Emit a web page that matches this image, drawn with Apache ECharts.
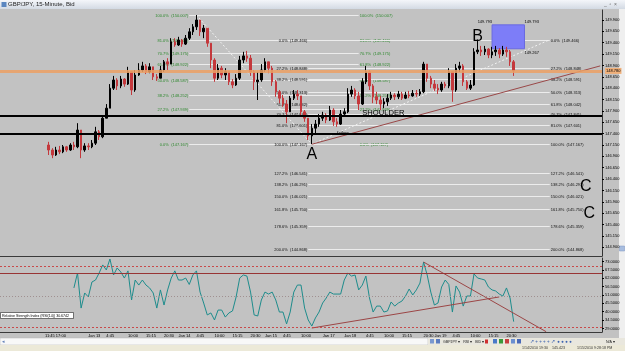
<!DOCTYPE html>
<html>
<head>
<meta charset="utf-8">
<script src="https://cdn.jsdelivr.net/npm/echarts@6/dist/echarts.min.js"></script>
<style>
html, body { margin: 0; padding: 0; background: #c2c2c2; }
#chart { width: 625px; height: 351px; }
</style>
</head>
<body>
<div id="chart"></div>
<script>
// GBP/JPY 15-Minute Bid, candles + RSI(14) sub window
const slotCount = 167
const firstSlot = 13
const firstOpen = 147.15

const closes = [
  147.04, 146.93, 147.04, 147.00, 147.11, 147.04, 147.15, 147.11, 147.48, 147.04,
  147.13, 147.11, 147.19, 147.44, 147.33, 147.74, 147.96, 148.40, 148.58, 148.45,
  148.60, 148.49, 148.76, 148.36, 148.69, 148.80, 148.89, 148.76, 148.87, 148.65,
  148.62, 148.80, 148.98, 148.93, 149.42, 149.35, 149.46, 149.37, 149.50, 149.64,
  149.75, 149.90, 149.64, 149.72, 149.39, 149.02, 148.62, 148.84, 148.69, 148.76,
  148.54, 148.47, 148.62, 149.02, 149.11, 149.06, 148.76, 148.54, 148.58, 148.80,
  148.98, 148.84, 148.54, 148.32, 148.18, 148.05, 147.88, 148.18, 148.27, 148.23,
  147.88, 147.74, 147.35, 147.52, 147.61, 147.74, 147.81, 147.70, 147.92, 147.66,
  147.61, 147.83, 147.88, 148.27, 148.36, 148.23, 148.05, 148.54, 148.76, 148.45,
  148.21, 148.14, 148.05, 148.10, 148.18, 148.25, 148.21, 148.27, 148.18, 148.25,
  148.23, 148.29, 148.27, 148.32, 148.93, 148.62, 148.49, 148.40, 148.36, 148.49,
  148.45, 148.76, 148.36, 148.84, 148.89, 148.54, 148.40, 148.47, 149.20, 149.24,
  149.20, 149.26, 149.13, 149.20, 149.24, 149.15, 149.24, 149.20, 148.98, 148.78
]
const highs = [
  147.22, 147.08, 147.11, 147.13, 147.15, 147.13, 147.19, 147.22, 147.63, 147.48,
  147.19, 147.19, 147.26, 147.55, 147.48, 147.81, 148.05, 148.49, 148.67, 148.62,
  148.67, 148.62, 148.87, 148.76, 148.80, 148.95, 148.98, 148.93, 148.95, 148.87,
  148.71, 148.89, 149.02, 149.06, 149.50, 149.50, 149.53, 149.48, 149.57, 149.72,
  149.81, 150.01, 149.86, 149.79, 149.72, 149.35, 149.06, 148.93, 148.89, 148.84,
  148.76, 148.60, 148.71, 149.11, 149.20, 149.22, 149.13, 148.80, 148.76, 148.93,
  149.06, 148.98, 148.89, 148.58, 148.36, 148.25, 148.14, 148.23, 148.36, 148.36,
  148.23, 147.92, 147.74, 147.61, 147.70, 147.83, 147.88, 147.85, 148.01, 147.96,
  147.74, 147.92, 147.96, 148.40, 148.45, 148.40, 148.32, 148.62, 148.89, 148.80,
  148.49, 148.32, 148.23, 148.18, 148.27, 148.32, 148.29, 148.34, 148.32, 148.32,
  148.34, 148.36, 148.36, 148.38, 148.98, 148.93, 148.67, 148.58, 148.49, 148.54,
  148.54, 148.84, 148.76, 148.93, 148.98, 148.93, 148.58, 148.58, 149.28, 149.47,
  149.33, 149.33, 149.28, 149.31, 149.33, 149.28, 149.33, 149.31, 149.24, 149.02
]
const lows = [
  146.93, 146.86, 146.91, 146.95, 146.97, 147.00, 147.02, 147.04, 147.08, 146.86,
  147.00, 147.04, 147.08, 147.15, 147.26, 147.30, 147.74, 147.96, 148.36, 148.36,
  148.40, 148.43, 148.47, 148.25, 148.32, 148.67, 148.76, 148.71, 148.73, 148.58,
  148.56, 148.62, 148.76, 148.80, 148.93, 149.31, 149.33, 149.31, 149.35, 149.46,
  149.57, 149.68, 149.55, 149.50, 149.31, 148.84, 148.54, 148.58, 148.62, 148.58,
  148.47, 148.40, 148.45, 148.58, 148.95, 148.98, 148.67, 148.36, 148.14, 148.54,
  148.76, 148.73, 148.45, 148.21, 148.07, 147.99, 147.63, 147.88, 148.14, 148.14,
  147.81, 147.66, 147.26, 147.17, 147.41, 147.55, 147.68, 147.63, 147.68, 147.57,
  147.55, 147.59, 147.77, 147.85, 148.21, 148.16, 147.92, 148.03, 148.49, 148.36,
  148.07, 148.05, 147.92, 147.96, 148.01, 148.14, 148.14, 148.16, 148.14, 148.16,
  148.18, 148.21, 148.21, 148.23, 148.29, 148.54, 148.40, 148.34, 148.27, 148.32,
  148.40, 148.40, 148.10, 148.32, 148.76, 148.45, 148.36, 148.36, 148.45, 149.15,
  149.11, 149.13, 149.06, 149.06, 149.11, 149.06, 149.11, 149.09, 148.89, 148.67
]

const rsiFirstSlot = 20
const rsi = [
  55.6, 65.4, 42.4, 52.3, 49.7, 59.5, 60.8, 65.4, 70.7, 67.4,
  74.6, 64.1, 68.7, 66.1, 62.1, 66.8, 47.7, 60.8, 57.5, 60.8,
  57.5, 55.6, 52.3, 42.4, 54.3, 44.4, 54.3, 62.1, 66.8, 60.8,
  60.8, 62.1, 57.9, 64.1, 66.8, 52.9, 45.7, 37.9, 39.2, 34.6,
  41.1, 41.1, 36.5, 39.2, 40.5, 49.7, 62.1, 64.1, 63.4, 52.9,
  37.9, 37.2, 47.7, 52.9, 51.6, 52.9, 47.7, 39.8, 39.8, 32.0,
  39.8, 52.9, 57.5, 57.5, 42.4, 34.6, 30.6, 35.9, 39.8, 45.7,
  49.0, 52.9, 51.6, 51.6, 51.6, 60.8, 65.4, 63.4, 64.1, 54.3,
  57.5, 63.4, 49.0, 39.8, 43.7, 43.7, 39.8, 40.5, 46.4, 43.7,
  45.7, 47.0, 50.3, 54.9, 51.0, 54.3, 58.8, 72.6, 64.1, 52.9,
  44.4, 45.7, 56.2, 60.8, 57.9, 39.8, 56.9, 52.9, 43.7, 50.3,
  50.3, 64.8, 62.1, 61.5, 60.8, 56.2, 54.3, 53.6, 51.6, 50.3,
  55.6, 49.0, 33.5
]

const priceTicks = [144.9, 145.15, 145.4, 145.65, 145.9, 146.15, 146.4, 146.65, 146.9, 147.15,
  147.4, 147.65, 147.9, 148.15, 148.4, 148.65, 148.9, 149.15, 149.4, 149.65, 149.9]
const rsiTicks = [29, 34.5, 40, 45.5, 51, 56.5, 62, 67.5, 73]
const timeTicks = [
  [12, '11:45'], [15, '17:00'], [24, 'Jan 13'], [29, '4:45'], [35, '10:00'], [40, '15:15'], [45, '20:30'],
  [49, 'Jan 14'], [54, '4:45'], [59, '10:00'], [64, '15:15'], [69, '20:30'], [73, 'Jan 15'], [78, '4:45'],
  [83, '10:00'], [89, 'Jan 17'], [95, 'Jan 18'], [101, '4:45'], [106, '10:00'], [111, '15:15'], [117, '20:30'],
  [120, 'Jan 19'], [125, '4:45'], [130, '10:00'], [135, '15:15'], [140, '20:30']
]

const bid = 148.78
const blackLevels = [147.788, 147.392]

// fibo from the 150.007 top to A, and from A to B (with extensions)
const fibTop = [['100.0%', 150.007], ['81.0%', 149.466], ['70.7%', 149.175], ['61.8%', 148.922],
  ['50.0%', 148.587], ['38.2%', 148.252], ['27.2%', 147.939], ['0.0%', 147.167]]
const fibTopSpan = [52, 99]
const fibAB = [['0.0%', 149.466], ['27.2%', 148.848], ['38.2%', 148.591], ['50.0%', 148.313],
  ['61.8%', 148.042], ['70.7%', 147.841], ['81.0%', 147.601], ['100.0%', 147.167],
  ['127.2%', 146.541], ['138.2%', 146.291], ['150.0%', 146.021], ['161.8%', 145.750],
  ['178.6%', 145.359], ['200.0%', 144.868]]
const fibABSpan = [85, 152]

const fibDiagonals = [[54, 150.007, 86, 147.167], [86, 147.167, 152, 149.466]]
const priceTrend = [[86, 147.167, 166, 148.89]]
const box = [136, 149.793, 145, 149.267]
const letters = [['A', 86, 147.11], ['B', 132, 149.72], ['C', 162, 146.42], ['C', 163, 145.81]]
const notes = [['SHOULDER', 100, 147.854, 7.6], ['failure', 93, 147.392, 4.5],
  ['149.793', 132, 149.856, 4], ['149.793', 145, 149.856, 4], ['149.267', 145, 149.174, 4]]

const rsiLevels = { dashed: [70, 30], mid: 50, line: 65.4 }
const rsiTrend = [[86, 29.3, 138, 49.7], [117, 72.6, 151, 26.9]]

const slots = Array.from({ length: slotCount }, (_, i) => String(i))
const tickMap = {}
timeTicks.forEach(t => { tickMap[t[0]] = t[1] })
const showTick = i => tickMap[i] !== undefined

const candles = closes.map((c, i) => {
  const o = i === 0 ? firstOpen : closes[i - 1]
  return [firstSlot + i, o, c, Math.min(lows[i], o, c), Math.max(highs[i], o, c)]
})
const rsiData = rsi.map((v, i) => [rsiFirstSlot + i, v])

const FONT = 'Liberation Sans'

function fibSeries (levels, span, textColor) {
  return {
    type: 'custom', xAxisIndex: 0, yAxisIndex: 0, z: 1, silent: true,
    data: levels.map(l => [span[0], span[1], l[1]]),
    encode: { x: [0, 1], y: 2 },
    renderItem: (params, api) => {
      const lv = levels[params.dataIndex]
      const a = api.coord([api.value(0), api.value(2)])
      const b = api.coord([api.value(1), api.value(2)])
      const y = Math.round(a[1]) + 0.5
      const txt = lv[0] + '  (' + lv[1].toFixed(3) + ')'
      const ts = { text: txt, fill: textColor, fontSize: 4, fontFamily: FONT, verticalAlign: 'middle' }
      return {
        type: 'group',
        children: [
          { type: 'line', shape: { x1: a[0], y1: y, x2: b[0], y2: y }, style: { stroke: '#ececec', lineWidth: 1 } },
          { type: 'text', x: a[0] - 1, y: y, style: Object.assign({ align: 'right' }, ts) },
          { type: 'text', x: b[0] + 1, y: y, style: Object.assign({ align: 'left' }, ts) }
        ]
      }
    }
  }
}

function segSeries (segs, axis, color, dash, z) {
  return {
    type: 'custom', xAxisIndex: axis, yAxisIndex: axis, z: z, silent: true,
    data: segs,
    encode: { x: [0, 2], y: [1, 3] },
    renderItem: (params, api) => {
      const a = api.coord([api.value(0), api.value(1)])
      const b = api.coord([api.value(2), api.value(3)])
      return { type: 'line', shape: { x1: a[0], y1: a[1], x2: b[0], y2: b[1] }, style: { stroke: color, lineWidth: 1, lineDash: dash } }
    }
  }
}

const chart = echarts.init(document.getElementById('chart'))

const option = {
  backgroundColor: '#c2c2c2',
  animation: false,
  grid: [
    { left: 0, right: 23, top: 10, bottom: 95, outerBoundsMode: 'none' },
    { left: 0, right: 23, top: 258, bottom: 19, outerBoundsMode: 'none' }
  ],
  xAxis: [
    {
      type: 'category', gridIndex: 0, data: slots,
      axisLine: { lineStyle: { color: '#3a3a3a' } },
      axisTick: { show: false }, axisLabel: { show: false }, splitLine: { show: false }
    },
    {
      type: 'category', gridIndex: 1, data: slots,
      axisLine: { lineStyle: { color: '#3a3a3a' } },
      axisTick: { interval: showTick, alignWithLabel: true, length: 2, lineStyle: { color: '#000' } },
      axisLabel: {
        interval: showTick, formatter: (v, i) => tickMap[i] || '',
        align: 'left', fontSize: 4, fontFamily: FONT, color: '#000', margin: 2
      },
      splitLine: { show: false }
    }
  ],
  yAxis: [
    {
      type: 'value', gridIndex: 0, position: 'right', min: 144.708, max: 150.12,
      axisLine: { show: true, lineStyle: { color: '#333' } },
      axisTick: { show: true, customValues: priceTicks, length: 2, lineStyle: { color: '#000' } },
      axisLabel: { customValues: priceTicks, formatter: v => v.toFixed(3), fontSize: 4, fontFamily: FONT, color: '#000', margin: 3 },
      splitLine: { show: false }
    },
    {
      type: 'value', gridIndex: 1, position: 'right', min: 26.7, max: 75.25,
      axisLine: { show: true, lineStyle: { color: '#333' } },
      axisTick: { show: true, customValues: rsiTicks, length: 2, lineStyle: { color: '#000' } },
      axisLabel: { customValues: rsiTicks, formatter: v => v.toFixed(4), fontSize: 4, fontFamily: FONT, color: '#000', margin: 3 },
      splitLine: { show: false }
    }
  ],
  series: [
    fibSeries(fibTop, fibTopSpan, '#2f8a2f'),
    fibSeries(fibAB, fibABSpan, '#111'),
    segSeries(fibDiagonals, 0, '#f2f2f2', [2, 2], 2),
    segSeries(priceTrend, 0, '#9a4848', null, 2),
    {
      type: 'custom', xAxisIndex: 0, yAxisIndex: 0, z: 2, silent: true,
      data: [box],
      encode: { x: [0, 2], y: [1, 3] },
      renderItem: (params, api) => {
        const a = api.coord([api.value(0), api.value(1)])
        const b = api.coord([api.value(2), api.value(3)])
        return { type: 'rect', shape: { x: a[0], y: a[1], width: b[0] - a[0], height: b[1] - a[1] }, style: { fill: '#7d7df8', stroke: '#6a6ae0' } }
      }
    },
    {
      type: 'candlestick', xAxisIndex: 0, yAxisIndex: 0, z: 3,
      data: candles,
      encode: { x: 0, y: [1, 2, 3, 4] },
      barWidth: 2,
      itemStyle: { color: '#000', color0: '#c4383c', borderColor: '#000', borderColor0: '#c4383c', borderWidth: 1 },
      markLine: {
        silent: true, symbol: 'none', animation: false,
        data: blackLevels.map(p => ({ yAxis: p, label: { show: false }, lineStyle: { color: '#000', width: 2, type: 'solid' } }))
          .concat([{
            yAxis: bid,
            lineStyle: { color: 'rgba(236,160,100,0.85)', width: 3, type: 'solid' },
            label: { show: true, position: 'end', formatter: bid.toFixed(3), fontSize: 4, fontFamily: FONT, color: '#000', backgroundColor: '#f0b07a', padding: [1, 1], distance: 3 }
          }])
      }
    },
    {
      type: 'custom', xAxisIndex: 0, yAxisIndex: 0, z: 6, silent: true,
      data: letters.map(l => [l[1], l[2]]),
      encode: { x: 0, y: 1 },
      renderItem: (params, api) => {
        const p = api.coord([api.value(0), api.value(1)])
        return { type: 'text', x: p[0], y: p[1], style: { text: letters[params.dataIndex][0], fill: '#000', fontSize: 16, fontFamily: FONT, align: 'center', verticalAlign: 'top' } }
      }
    },
    {
      type: 'custom', xAxisIndex: 0, yAxisIndex: 0, z: 6, silent: true,
      data: notes.map(n => [n[1], n[2]]),
      encode: { x: 0, y: 1 },
      renderItem: (params, api) => {
        const n = notes[params.dataIndex]
        const p = api.coord([api.value(0), api.value(1)])
        return { type: 'text', x: p[0], y: p[1], style: { text: n[0], fill: '#000', fontSize: n[3], fontFamily: FONT, align: 'left', verticalAlign: 'middle' } }
      }
    },
    {
      type: 'line', xAxisIndex: 1, yAxisIndex: 1, z: 3,
      data: rsiData, symbol: 'none',
      lineStyle: { color: '#1e8c8c', width: 1 },
      markLine: {
        silent: true, symbol: 'none', animation: false, label: { show: false },
        data: rsiLevels.dashed.map(v => ({ yAxis: v, lineStyle: { color: '#c84a4a', width: 1, type: [2, 2] } }))
          .concat([
            { yAxis: rsiLevels.mid, lineStyle: { color: '#a09090', width: 1, type: [1, 2] } },
            { yAxis: rsiLevels.line, lineStyle: { color: '#983434', width: 1, type: 'solid' } }
          ])
      }
    },
    segSeries(rsiTrend, 1, '#9c4646', null, 4)
  ],
  graphic: [
    { type: 'rect', shape: { x: 0, y: 0, width: 625, height: 9 }, style: { fill: new echarts.graphic.LinearGradient(0, 0, 0, 1, [{ offset: 0, color: '#f4f6fa' }, { offset: 1, color: '#d3dae3' }]) } },
    { type: 'rect', shape: { x: 1.5, y: 2, width: 5, height: 5 }, style: { fill: '#5a86c0' } },
    { type: 'text', x: 8, y: 4.8, style: { text: 'GBP/JPY, 15-Minute, Bid', fontSize: 6, fontFamily: FONT, fill: '#1c1c1c', verticalAlign: 'middle' } },
    { type: 'text', x: 604, y: 4.5, style: { text: '_  \u25ab  \u00d7', fontSize: 5, fontFamily: FONT, fill: '#6a6a6a', verticalAlign: 'middle' } },
    { type: 'rect', shape: { x: 619, y: 9, width: 6, height: 329 }, style: { fill: '#efefef' } },
    { type: 'rect', shape: { x: 619.5, y: 246, width: 5, height: 5 }, style: { fill: '#a8bddf', stroke: '#7d95c0', lineWidth: 0.5 } },
    // RSI name box
    { type: 'rect', shape: { x: 0.5, y: 312.5, width: 73, height: 6 }, style: { fill: '#fff', stroke: '#222', lineWidth: 0.6 } },
    { type: 'text', x: 2, y: 315.6, style: { text: 'Relative Strength Index (RSI(14)) 30.6742', fontSize: 3.6, fontFamily: FONT, fill: '#000', verticalAlign: 'middle' } },
    // scroll bar + toolbar + status bar
    { type: 'rect', shape: { x: 0, y: 338, width: 428, height: 7 }, style: { fill: '#f8f8f8', stroke: '#b5b5b5', lineWidth: 0.5 } },
    { type: 'text', x: 1.5, y: 341.5, style: { text: '\u25c2', fontSize: 5, fill: '#5f7fb8', verticalAlign: 'middle' } },
    { type: 'rect', shape: { x: 428, y: 338, width: 197, height: 7 }, style: { fill: '#e9e7de' } },
    { type: 'rect', shape: { x: 0, y: 345, width: 625, height: 6 }, style: { fill: '#ece9d8' } },
    { type: 'rect', shape: { x: 430, y: 339, width: 4, height: 4.5 }, style: { fill: '#7a98d0' } },
    { type: 'rect', shape: { x: 436, y: 339, width: 4, height: 4.5 }, style: { fill: '#5c7cc0' } },
    { type: 'text', x: 443, y: 341.5, style: { text: 'GBPJPY \u25be   RSI \u25be   BID \u25be', fontSize: 3.6, fontFamily: FONT, fill: '#222', verticalAlign: 'middle' } },
    { type: 'rect', shape: { x: 485, y: 339.5, width: 3, height: 4 }, style: { fill: '#d03030' } },
    { type: 'rect', shape: { x: 493, y: 339, width: 4, height: 4.5 }, style: { fill: '#4a7ac8' } },
    { type: 'rect', shape: { x: 499, y: 339, width: 4, height: 4.5 }, style: { fill: '#3a9a3a' } },
    { type: 'rect', shape: { x: 505, y: 339, width: 4, height: 4.5 }, style: { fill: '#c84040' } },
    { type: 'rect', shape: { x: 511, y: 339, width: 4, height: 4.5 }, style: { fill: '#6b8fd0' } },
    { type: 'rect', shape: { x: 517, y: 339, width: 4, height: 4.5 }, style: { fill: '#4a6ab8' } },
    { type: 'text', x: 530, y: 341.5, style: { text: '\u2197 + + + + \u2197  \u25cf \u25cf \u25cf \u25cf', fontSize: 4.5, fontFamily: FONT, fill: '#3d64b0', verticalAlign: 'middle' } },
    { type: 'text', x: 606, y: 341.5, style: { text: 'N/A \u25be', fontSize: 3.6, fontFamily: FONT, fill: '#222', verticalAlign: 'middle' } },
    { type: 'text', x: 522, y: 348.2, style: { text: '1/14/2010 19:30    145.423', fontSize: 3.6, fontFamily: FONT, fill: '#333', verticalAlign: 'middle' } },
    { type: 'text', x: 577, y: 348.2, style: { text: '1/15/2010 9:28:18 PM', fontSize: 3.6, fontFamily: FONT, fill: '#333', verticalAlign: 'middle' } }
  ]
}

chart.setOption(option)
window.addEventListener('resize', () => {
  chart.resize()
})
</script>
</body>
</html>
